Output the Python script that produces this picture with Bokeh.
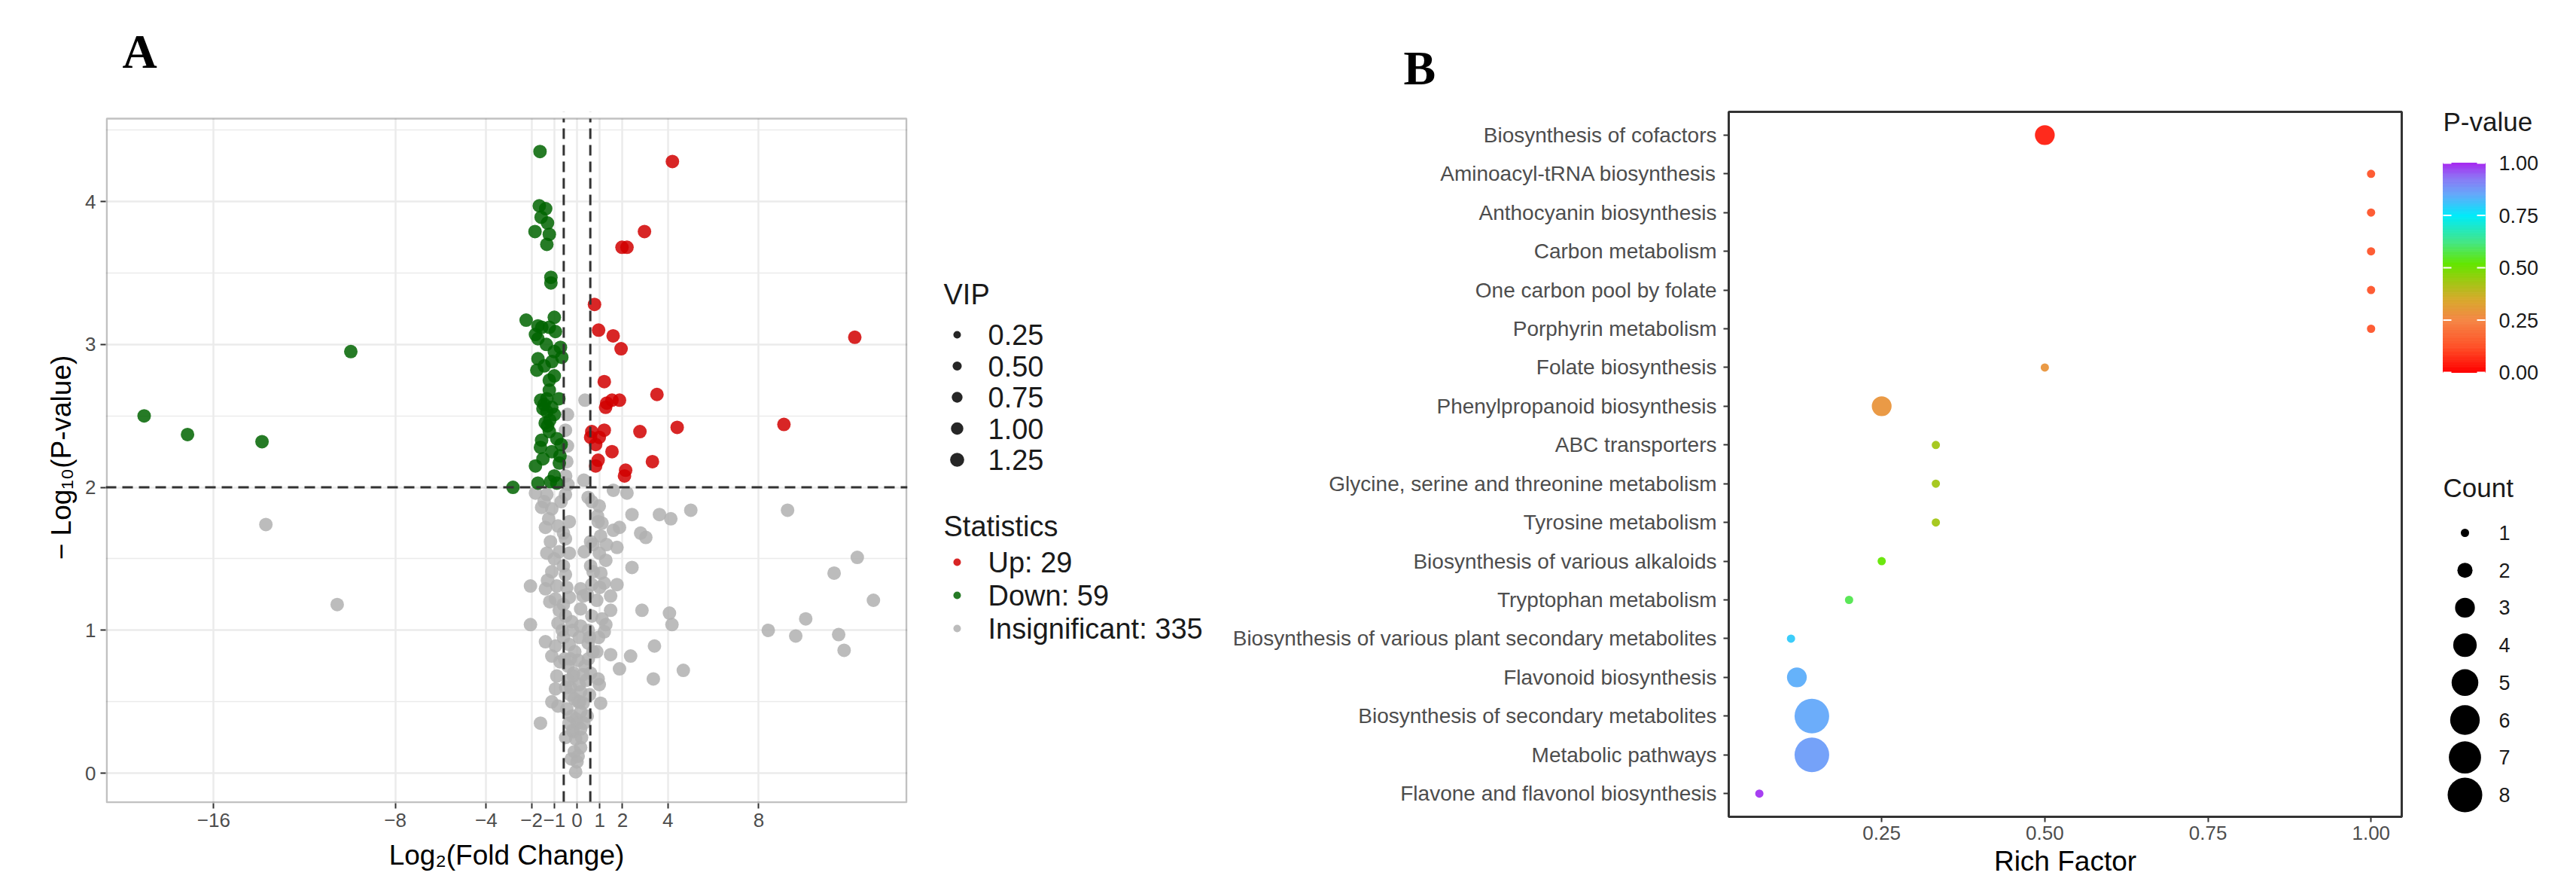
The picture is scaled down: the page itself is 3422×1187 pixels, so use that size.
import math
import numpy as np
from bokeh.plotting import figure
from bokeh.layouts import row
from bokeh.models import Range1d, FixedTicker, Span, ColumnDataSource, Title, BoxAnnotation
from bokeh.transform import linear_cmap
from bokeh.core.properties import value
from bokeh.embed import file_html
from bokeh.resources import INLINE

# ---------------- Panel A data (volcano) ----------------
up_x = [4.2, 2.97, 1.98, 2.2, 0.77, 0.95, 1.59, 1.94, 12.23, 1.2, 3.52, 1.31, 1.54, 1.87, 1.26,
        9.11, 0.65, 1.2, 0.98, 0.6, 0.82, 2.77, 4.41, 1.54, 0.82, 0.93, 3.32, 2.14, 2.09]
up_y = [4.28, 3.79, 3.68, 3.68, 3.28, 3.10, 3.06, 2.97, 3.05, 2.74, 2.65, 2.59, 2.61, 2.61, 2.56,
        2.44, 2.39, 2.40, 2.35, 2.35, 2.30, 2.39, 2.42, 2.25, 2.15, 2.19, 2.18, 2.12, 2.08]

down_x = [-1.63, -1.66, -1.38, -1.58, -1.3, -1.85, -1.22, -1.33, -1.15, -1.15, -2.24, -1.72, -1.0,
          -1.22, -1.83, -0.95, -1.72, -0.73, -1.0, -0.67, -1.72, -1.44, -1.77, -1.0, -1.22, -1.22,
          -1.6, -1.33, -1.11, -1.5, -1.0, -1.33, -1.3, -1.22, -0.89, -1.56, -1.61, -1.11, -1.83,
          -0.78, -1.0, -1.72, -1.17, -0.89, -2.82, -19.06, -17.15, -13.87, -9.96,
          -1.45, -1.2, -0.75, -1.4, -0.8, -1.55, -1.1, -1.5, -1.35, -0.7]
down_y = [4.35, 3.97, 3.95, 3.89, 3.85, 3.79, 3.77, 3.70, 3.47, 3.43, 3.17, 3.13, 3.19,
          3.12, 3.07, 3.09, 3.04, 2.98, 2.95, 2.91, 2.90, 2.85, 2.82, 2.78, 2.75, 2.68,
          2.61, 2.62, 2.56, 2.55, 2.51, 2.53, 2.43, 2.39, 2.34, 2.33, 2.28, 2.25, 2.15,
          2.17, 2.08, 2.03, 2.04, 2.03, 2.00, 2.50, 2.37, 2.32, 2.95,
          2.58, 2.47, 2.22, 2.45, 2.62, 3.12, 2.88, 2.20, 3.00, 2.30]

ns_x = [0.35, -0.42, -0.51, -0.42, -0.45, -0.5, -0.4, 0.3, -1.83, -1.33, -0.51, 0.49, 1.6, 2.2,
        -1.56, -1.11, 0.98, 2.42, 3.63, 4.13, 5.01, -1.39, -0.84, -0.34, 0.93, 1.6, 1.87, 2.8,
        3.03, -1.17, -0.51, 0.6, 1.04, -1.33, -0.78, -0.34, 0.32, 0.98, 1.76, 1.27, -1.11, -0.51,
        0.71, 2.42, -2.05, -1.39, -0.89, 0.16, 0.65, 1.2, 1.76, -0.95, -0.34, 0.27, 0.87, 1.48,
        -0.78, 0.16, 1.48, 2.86, 4.07, -2.05, -0.84, -0.23, 0.16, 1.27, 1.2, 4.18, -1.39, -0.95,
        -0.34, 0.49, 0.87, 1.48, 3.41, 2.36, -1.11, 0.05, -0.40, 1.87, 4.68, 3.36, -0.89, -0.17,
        0.27, 0.93, 0.98, -0.95, -0.28, 0.16, -1.11, -0.84, -0.12, 0.27, 1.04, -1.61, -0.23, 0.16,
        0.0, -0.17, 0.16, -0.06, 0.16, -0.12, 0.0, -0.06,
        -1.45, -0.7, 0.65, 0.9, 1.1, -1.25, -0.6, 0.7, 1.3, -1.0, -0.6, 0.6, 1.05, -1.3, -0.45,
        0.45, 1.0, -1.2, -0.6, 0.65, 1.1, -0.65, 0.5, 0.95, -0.75, 0.7, -0.5, 0.1, -0.15, 0.35,
        -0.3, 0.45, 0.2, -0.25, 0.05, -0.05, 0.12, -0.4, 0.55, -0.2, -0.6, -0.55, -0.5, -0.45,
        -0.5, -0.3, 0.5, 0.6, 0.55, 0.4, 0.1, -0.1, -0.2, 0.3, 0.05, -0.35,
        -13.7, -10.56, 9.27, 12.34, 11.32, 13.05, 10.07, 8.42, 9.63, 11.52, 11.76]
ns_y = [2.61, 2.51, 2.40, 2.29, 2.18, 2.08, 2.02, 2.05, 1.96, 1.95, 1.95, 1.93, 1.98, 1.96,
        1.86, 1.85, 1.87, 1.81, 1.81, 1.78, 1.84, 1.72, 1.73, 1.76, 1.76, 1.70, 1.72, 1.68,
        1.65, 1.62, 1.64, 1.62, 1.66, 1.54, 1.55, 1.54, 1.55, 1.54, 1.58, 1.49, 1.41, 1.39,
        1.41, 1.44, 1.31, 1.29, 1.31, 1.29, 1.32, 1.33, 1.32, 1.22, 1.23, 1.24, 1.21, 1.24,
        1.14, 1.15, 1.14, 1.14, 1.12, 1.04, 1.05, 1.06, 1.03, 1.04, 0.99, 1.04, 0.92, 0.89,
        0.90, 0.91, 0.85, 0.83, 0.89, 0.82, 0.82, 0.79, 0.75, 0.73, 0.72, 0.66, 0.68, 0.68,
        0.69, 0.66, 0.62, 0.59, 0.60, 0.57, 0.50, 0.47, 0.52, 0.49, 0.49, 0.35, 0.40, 0.43,
        0.35, 0.29, 0.31, 0.24, 0.18, 0.15, 0.08, 0.01,
        1.9, 1.9, 1.9, 1.8, 1.75, 1.78, 1.68, 1.6, 1.6, 1.5, 1.45, 1.45, 1.4, 1.35, 1.3,
        1.25, 1.3, 1.2, 1.18, 1.1, 1.08, 1.0, 1.0, 0.95, 0.78, 0.85, 0.25, 0.62, 0.7, 0.75,
        0.55, 0.4, 0.25, 0.1, 0.12, 0.38, 0.5, 0.65, 0.95, 1.0, 0.95, 0.8, 0.6, 0.45,
        1.1, 0.8, 0.8, 0.7, 0.55, 0.65, 0.95, 0.85, 0.3, 0.35, 0.5, 0.35,
        1.74, 1.18, 1.84, 1.51, 1.40, 1.21, 1.08, 1.00, 0.96, 0.97, 0.86]

stat_labels = ["Up: 29", "Down: 59", "Insignificant: 335"]
vip_levels = [0.25, 0.50, 0.75, 1.00, 1.25]
x_ticks_A = [-16, -8, -4, -2, -1, 0, 1, 2, 4, 8]
y_ticks_A = [0, 1, 2, 3, 4]
fc_cut = 0.585
p_cut = 2.0

# ---------------- Panel B data (KEGG enrichment) ----------------
pathways = ["Biosynthesis of cofactors", "Aminoacyl-tRNA biosynthesis", "Anthocyanin biosynthesis",
            "Carbon metabolism", "One carbon pool by folate", "Porphyrin metabolism",
            "Folate biosynthesis", "Phenylpropanoid biosynthesis", "ABC transporters",
            "Glycine, serine and threonine metabolism", "Tyrosine metabolism",
            "Biosynthesis of various alkaloids", "Tryptophan metabolism",
            "Biosynthesis of various plant secondary metabolites", "Flavonoid biosynthesis",
            "Biosynthesis of secondary metabolites", "Metabolic pathways",
            "Flavone and flavonol biosynthesis"]
rich_factor = [0.5, 1.0, 1.0, 1.0, 1.0, 1.0, 0.5, 0.25, 0.333, 0.333, 0.333, 0.25, 0.2,
               0.111, 0.12, 0.143, 0.143, 0.0625]
p_values = [0.05, 0.13, 0.13, 0.13, 0.13, 0.13, 0.29, 0.29, 0.43, 0.43, 0.43, 0.52, 0.58,
            0.80, 0.84, 0.85, 0.87, 0.99]
counts = [3, 1, 1, 1, 1, 1, 1, 3, 1, 1, 1, 1, 1, 1, 3, 8, 8, 1]
rf_ticks = [0.25, 0.50, 0.75, 1.00]
pv_ticks = [0.00, 0.25, 0.50, 0.75, 1.00]
count_levels = [1, 2, 3, 4, 5, 6, 7, 8]

# ---------------- styles ----------------
FONT = "Liberation Sans"
SERIF = "Liberation Serif"
GRID = "#EBEBEB"
DARK = "#333333"
TICKTXT = "#4D4D4D"
C_UP, C_DOWN, C_NS = "#D10000", "#006400", "#B0B0B0"

anchors = [(0.00, (255, 0, 0)), (0.12, (255, 80, 40)), (0.25, (245, 135, 70)),
           (0.35, (215, 170, 45)), (0.45, (150, 205, 15)), (0.52, (100, 230, 0)),
           (0.62, (70, 230, 130)), (0.75, (0, 235, 250)), (0.85, (100, 170, 250)),
           (0.93, (140, 120, 245)), (1.00, (165, 45, 240))]
def _interp(t):
    for (t0, c0), (t1, c1) in zip(anchors[:-1], anchors[1:]):
        if t0 <= t <= t1:
            f = (t - t0) / (t1 - t0)
            return "#%02x%02x%02x" % tuple(int(round(a + (b - a) * f)) for a, b in zip(c0, c1))
    return "#%02x%02x%02x" % anchors[-1][1]
PALETTE = [_interp(i / 255) for i in range(256)]

def count_diam(c):
    return math.sqrt(11 ** 2 + (46 ** 2 - 11 ** 2) * (c - 1) / 7)

def vip_diam(v):
    return 10 + (v - 0.25) * 8.7

def minus(v):
    return ("\u2212" + str(abs(v))) if v < 0 else str(v)

def style_axis(ax, label_size="26px"):
    ax.axis_line_color = None
    ax.major_tick_line_color = DARK
    ax.major_tick_line_width = 2
    ax.major_tick_out = 7
    ax.major_tick_in = 0
    ax.minor_tick_line_color = None
    ax.major_label_text_font = FONT
    ax.major_label_text_font_size = label_size
    ax.major_label_text_color = TICKTXT
    ax.axis_label_text_font = FONT
    ax.axis_label_text_font_size = "37px"
    ax.axis_label_text_font_style = "normal"
    ax.axis_label_text_color = "black"

def add_letter(p, letter, offset, spacer_standoff, standoff):
    # an empty spacer title sits next to the frame; the panel letter is stacked above it
    if spacer_standoff is not None:
        p.add_layout(Title(text=" ", text_font_size="10px", standoff=spacer_standoff), "above")
    p.add_layout(Title(text=letter, text_font=SERIF, text_font_style="bold",
                       text_font_size="64px", text_color="black", align="left",
                       offset=offset, standoff=standoff), "above")

# Common layout: every figure in the row shares the same top border (frames top-aligned).
PAGE0 = 8
HTOT = 1171
TOP = 148                 # top border of every figure -> frame tops at page y 156
FR_TOP = PAGE0 + TOP
A_L, A_R = 148, 1213
A_BOX_TOP, A_B = 165, 1074   # visible panel-A box (page y)
B_L, B_R, B_B = 2304, 3198, 1092

# ---------------- Panel A ----------------
A_YLO, A_YHI = -0.21, 4.58
px_per_unit = (A_B - A_BOX_TOP) / (A_YHI - A_YLO)
A_YTOP = A_YHI + (A_BOX_TOP - FR_TOP) / px_per_unit
X_LO, X_HI = -20.75, 14.55
pA = figure(frame_width=A_R - A_L, frame_height=A_B - FR_TOP,
            x_range=Range1d(X_LO, X_HI), y_range=Range1d(A_YLO, A_YTOP),
            min_border_left=A_L - PAGE0, min_border_right=10,
            min_border_top=TOP, min_border_bottom=HTOT - (A_B - PAGE0),
            output_backend="svg", toolbar_location=None)
add_letter(pA, "A", 22, 32, 0)
pA.xaxis.ticker = FixedTicker(ticks=x_ticks_A)
pA.xaxis.major_label_overrides = {t: minus(t) for t in x_ticks_A}
pA.yaxis.ticker = FixedTicker(ticks=y_ticks_A)
pA.xgrid.ticker = FixedTicker(ticks=x_ticks_A)
y_minor = [t + 0.5 for t in y_ticks_A]
pA.ygrid.ticker = FixedTicker(ticks=y_ticks_A, minor_ticks=y_minor)
pA.grid.grid_line_color = GRID
pA.grid.grid_line_width = 2.5
pA.ygrid.minor_grid_line_color = GRID
pA.ygrid.minor_grid_line_width = 1.6
pA.outline_line_color = None
for ax in pA.axis:
    style_axis(ax)
pA.xaxis.major_label_standoff = 6
pA.yaxis.major_label_standoff = 6
pA.xaxis.axis_label = "Log\u2082(Fold Change)"
pA.yaxis.axis_label = "\u2212 Log\u2081\u2080(P-value)"
pA.xaxis.axis_label_standoff = 14
pA.yaxis.axis_label_standoff = 8

pA.scatter(ns_x, ns_y, size=18, fill_color=C_NS, line_color=None, fill_alpha=0.85)
pA.scatter(down_x, down_y, size=18, fill_color=C_DOWN, line_color=None, fill_alpha=0.85)
pA.scatter(up_x, up_y, size=18, fill_color=C_UP, line_color=None, fill_alpha=0.85)

for loc, dim in [(-fc_cut, "height"), (fc_cut, "height"), (p_cut, "width")]:
    pA.add_layout(Span(location=loc, dimension=dim, line_dash="14 8", line_width=3,
                       line_color=DARK))
# blank band above the panel box, then the panel border itself
pA.add_layout(BoxAnnotation(left=X_LO, right=X_HI, bottom=A_YHI, top=A_YTOP + 0.02,
                            fill_color="white", fill_alpha=1.0, line_color=None))
inset_x = 1.3 / ((A_R - A_L) / (X_HI - X_LO))
inset_y = 1.3 / px_per_unit
pA.add_layout(BoxAnnotation(left=X_LO + inset_x, right=X_HI - inset_x,
                            bottom=A_YLO + inset_y, top=A_YHI,
                            fill_alpha=0.0, line_color=DARK, line_width=2.6))

# ---------------- Legend for Panel A ----------------
LA0 = A_R + 10
LAW = 418
LSH = 6
pL = figure(frame_width=LAW, frame_height=A_B - FR_TOP,
            x_range=Range1d(LA0, LA0 + LAW), y_range=Range1d(A_B - LSH, FR_TOP - LSH),
            x_axis_location=None, y_axis_location=None,
            min_border_left=0, min_border_right=0,
            min_border_top=TOP, min_border_bottom=HTOT - (A_B - PAGE0),
            output_backend="svg", toolbar_location=None)
pL.outline_line_color = None
pL.grid.visible = False

TXT = dict(text_font=value(FONT), text_baseline="middle", text_align="left", text_color="#1a1a1a")
pL.text(x=[1261], y=[392], text=["VIP"], text_font_size="38px", **TXT)
vy = [446 + 41.5 * i for i in range(len(vip_levels))]
pL.scatter(x=[1279] * len(vip_levels), y=vy, size=[vip_diam(v) for v in vip_levels],
           fill_color="black", line_color=None, fill_alpha=0.85)
pL.text(x=[1320] * len(vip_levels), y=vy, text=["%.2f" % v for v in vip_levels],
        text_font_size="38px", **TXT)

pL.text(x=[1261], y=[700], text=["Statistics"], text_font_size="38px", **TXT)
sy = [748 + 44 * i for i in range(len(stat_labels))]
pL.scatter(x=[1279] * 3, y=sy, size=10, fill_color=[C_UP, C_DOWN, C_NS],
           line_color=None, fill_alpha=0.85)
pL.text(x=[1320] * 3, y=sy, text=stat_labels, text_font_size="38px", **TXT)

# ---------------- Panel B ----------------
N = len(pathways)
ypos = [N - i for i in range(N)]
B0 = LA0 + LAW
pB = figure(frame_width=B_R - B_L, frame_height=B_B - FR_TOP,
            x_range=Range1d(0.0156, 1.047), y_range=Range1d(0.4, N + 0.6),
            min_border_left=B_L - B0, min_border_right=10,
            min_border_top=TOP, min_border_bottom=HTOT - (B_B - PAGE0),
            output_backend="svg", toolbar_location=None)
add_letter(pB, "B", -432, None, 46)
pB.grid.visible = False
pB.outline_line_color = DARK
pB.outline_line_width = 3
for ax in pB.axis:
    style_axis(ax)
pB.yaxis.ticker = FixedTicker(ticks=ypos)
pB.yaxis.major_label_overrides = {y: name for y, name in zip(ypos, pathways)}
pB.yaxis.major_label_text_font_size = "28px"
pB.yaxis.major_label_standoff = 9
pB.xaxis.ticker = FixedTicker(ticks=rf_ticks)
pB.xaxis.major_label_overrides = {t: "%.2f" % t for t in rf_ticks}
pB.xaxis.major_label_standoff = 5
pB.xaxis.axis_label = "Rich Factor"
pB.xaxis.axis_label_standoff = 5

srcB = ColumnDataSource(dict(x=rich_factor, y=ypos, p=p_values,
                             s=[count_diam(c) for c in counts]))
pB.scatter("x", "y", size="s", source=srcB, line_color=None, fill_alpha=0.95,
           fill_color=linear_cmap("p", PALETTE, 0, 1))

# ---------------- Legend for Panel B ----------------
LB0 = B_R + 10
LBW = 194
RSH = 9
pR = figure(frame_width=LBW, frame_height=B_B - FR_TOP,
            x_range=Range1d(LB0, LB0 + LBW), y_range=Range1d(B_B - RSH, FR_TOP - RSH),
            x_axis_location=None, y_axis_location=None,
            min_border_left=0, min_border_right=0,
            min_border_top=TOP, min_border_bottom=HTOT - (B_B - PAGE0),
            output_backend="svg", toolbar_location=None)
pR.outline_line_color = None
pR.grid.visible = False

bar_l, bar_r, bar_t, bar_b = 3253, 3309, 215, 493
def pv_y(p):
    return bar_b - p * (bar_b - bar_t)

pR.text(x=[bar_l], y=[160], text=["P-value"], text_font_size="35px", **TXT)
lev = np.linspace(0, 1, 201)
cb = ColumnDataSource(dict(top=[pv_y(b) for b in lev[1:]], bottom=[pv_y(a) for a in lev[:-1]],
                           v=list((lev[:-1] + lev[1:]) / 2)))
pR.quad(left=bar_l, right=bar_r, top="top", bottom="bottom", source=cb,
        fill_color=linear_cmap("v", PALETTE, 0, 1), line_color=linear_cmap("v", PALETTE, 0, 1),
        line_width=1)
for t in pv_ticks:
    yy = pv_y(t)
    pR.segment(x0=[bar_l, bar_r - 11], y0=[yy, yy], x1=[bar_l + 11, bar_r], y1=[yy, yy],
               line_color="white", line_width=2)
pR.text(x=[3327] * len(pv_ticks), y=[pv_y(t) for t in pv_ticks],
        text=["%.2f" % t for t in pv_ticks], text_font_size="27px", **TXT)

pR.text(x=[bar_l], y=[646], text=["Count"], text_font_size="35px", **TXT)
cy = [706 + 49.7 * i for i in range(len(count_levels))]
pR.scatter(x=[3282] * len(count_levels), y=cy, size=[count_diam(c) for c in count_levels],
           fill_color="black", line_color=None)
pR.text(x=[3327] * len(count_levels), y=cy, text=[str(c) for c in count_levels],
        text_font_size="27px", **TXT)

layout = row(pA, pL, pB, pR)
open("out.html", "w").write(file_html(layout, INLINE))
